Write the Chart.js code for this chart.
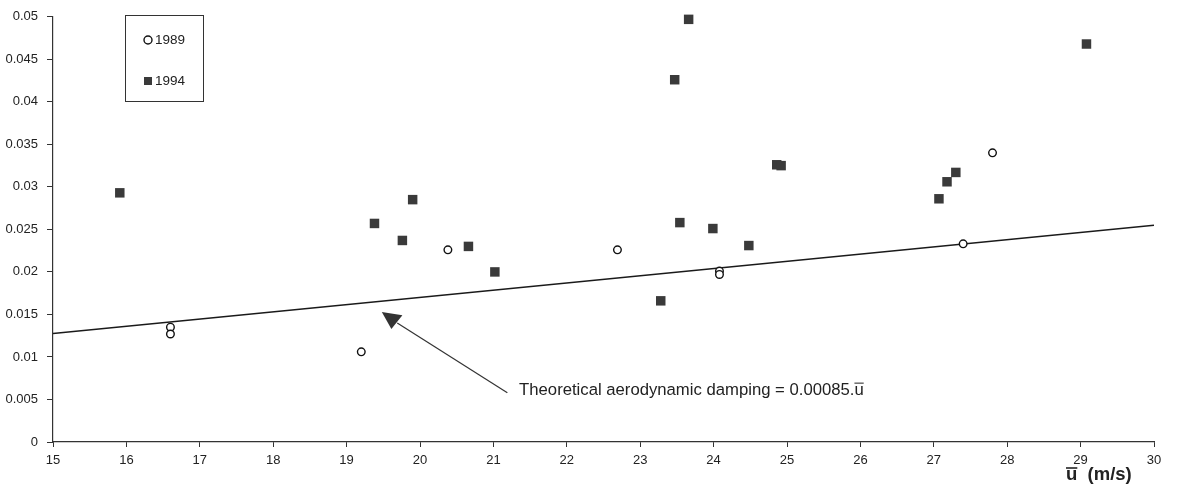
<!DOCTYPE html>
<html>
<head>
<meta charset="utf-8">
<script src="https://cdn.jsdelivr.net/npm/chart.js@4.4.1/dist/chart.umd.min.js"></script>
<style>
  html, body { margin: 0; padding: 0; background: #fff; }
  #wrap { width: 1177px; height: 492px; }
</style>
</head>
<body>
<div id="wrap"><canvas id="damping" width="1177" height="492"></canvas></div>
<script>
const u1989 = [16.60, 16.60, 19.20, 20.38, 22.69, 24.08, 24.08, 27.40, 27.80];
const d1989 = [0.0135, 0.0127, 0.0106, 0.0226, 0.0226, 0.0201, 0.0197, 0.0233, 0.0340];

const u1994 = [15.91, 19.38, 19.76, 19.90, 20.66, 21.02, 23.28, 23.47, 23.54, 23.66, 23.99, 24.48, 24.86, 24.92, 27.07, 27.18, 27.30, 29.08];
const d1994 = [0.0293, 0.0257, 0.0237, 0.0285, 0.0230, 0.0200, 0.0166, 0.0426, 0.0258, 0.0497, 0.0251, 0.0231, 0.0326, 0.0325, 0.0286, 0.0306, 0.0317, 0.0468];

// theoretical aerodynamic damping line end points
const uTheory = [15, 30];
const dTheory = [0.01275, 0.0255];

const xTicks = [15, 16, 17, 18, 19, 20, 21, 22, 23, 24, 25, 26, 27, 28, 29, 30];
const yTicks = [0, 0.005, 0.01, 0.015, 0.02, 0.025, 0.03, 0.035, 0.04, 0.045, 0.05];
const yTickLabels = ['0', '0.005', '0.01', '0.015', '0.02', '0.025', '0.03', '0.035', '0.04', '0.045', '0.05'];

const FONT = "'Liberation Sans', Arial, sans-serif";
const INK = '#222';

function pts(xs, ys) {
    return xs.map((x, i) => ({x: x, y: ys[i]}));
}

// legend box, arrow note and x axis title
const extras = {
    id: 'extras',
    afterDraw(chart) {
        const ctx = chart.ctx;
        const sx = chart.scales.x, sy = chart.scales.y;
        const px = (u) => sx.getPixelForValue(u);
        const py = (d) => sy.getPixelForValue(d);
        ctx.save();

        // legend
        ctx.strokeStyle = '#333';
        ctx.lineWidth = 1;
        ctx.strokeRect(125.5, 15.5, 78, 86);
        ctx.font = '13.5px ' + FONT;
        ctx.fillStyle = INK;
        ctx.textBaseline = 'middle';
        ctx.beginPath();
        ctx.arc(148, 40, 4, 0, Math.PI * 2);
        ctx.lineWidth = 1.4;
        ctx.strokeStyle = '#111';
        ctx.stroke();
        ctx.fillText(chart.data.datasets[0].label, 155, 40);
        ctx.fillStyle = '#3a3a3a';
        ctx.fillRect(144, 77, 8, 8);
        ctx.fillStyle = INK;
        ctx.fillText(chart.data.datasets[1].label, 155, 81);

        // arrow head
        ctx.fillStyle = '#333';
        ctx.beginPath();
        ctx.moveTo(px(19.48), py(0.0153));
        ctx.lineTo(px(19.76), py(0.0149));
        ctx.lineTo(px(19.61), py(0.0133));
        ctx.closePath();
        ctx.fill();
        ctx.strokeStyle = '#333';
        ctx.lineWidth = 1.2;
        ctx.beginPath();
        ctx.moveTo(px(19.69), py(0.0140));
        ctx.lineTo(px(21.19), py(0.0058));
        ctx.stroke();

        // note text with overlined u
        const note = 'Theoretical aerodynamic damping = 0.00085.';
        const tx = px(21.35), ty = py(0.0061);
        ctx.font = '16.7px ' + FONT;
        ctx.fillStyle = INK;
        ctx.textAlign = 'left';
        ctx.fillText(note + 'u', tx, ty);
        const w0 = ctx.measureText(note).width;
        const wu = ctx.measureText('u').width;
        ctx.lineWidth = 1;
        ctx.strokeStyle = INK;
        ctx.beginPath();
        ctx.moveTo(tx + w0, ty - 7);
        ctx.lineTo(tx + w0 + wu, ty - 7);
        ctx.stroke();

        // x axis title
        const ax = chart.chartArea.right - 88, ay = chart.chartArea.bottom + 33;
        ctx.font = 'bold 18.5px ' + FONT;
        ctx.fillText('u  (m/s)', ax, ay);
        const wb = ctx.measureText('u').width;
        ctx.lineWidth = 1.6;
        ctx.beginPath();
        ctx.moveTo(ax, ay - 7);
        ctx.lineTo(ax + wb, ay - 7);
        ctx.stroke();
        ctx.restore();
    }
};

document.addEventListener('DOMContentLoaded', function() {
    const ctx = document.getElementById('damping').getContext('2d');
    const data = {
        datasets: [
            {
                label: '1989',
                data: pts(u1989, d1989),
                pointStyle: 'circle',
                pointRadius: 3.8,
                pointBorderWidth: 1.4,
                pointBackgroundColor: '#fff',
                pointBorderColor: '#111',
                showLine: false,
                clip: false
            },
            {
                label: '1994',
                data: pts(u1994, d1994),
                pointStyle: 'rect',
                pointRadius: 6.7,
                pointBorderWidth: 0,
                pointBackgroundColor: '#3a3a3a',
                pointBorderColor: '#3a3a3a',
                showLine: false,
                clip: false
            },
            {
                label: 'Theoretical',
                type: 'line',
                data: pts(uTheory, dTheory),
                borderColor: '#1a1a1a',
                borderWidth: 1.5,
                pointRadius: 0,
                fill: false
            }
        ]
    };
    const config = {
        type: 'scatter',
        data: data,
        plugins: [extras],
        options: {
            responsive: false,
            animation: false,
            layout: {
                padding: {top: 16, right: 23, left: 0, bottom: 0}
            },
            plugins: {
                legend: {display: false},
                tooltip: {enabled: false}
            },
            scales: {
                x: {
                    type: 'linear',
                    min: 15,
                    max: 30,
                    afterBuildTicks: (s) => { s.ticks = xTicks.map(v => ({value: v})); },
                    afterFit: (s) => { s.height = 50; },
                    border: {display: true, color: '#333', width: 1.2},
                    grid: {display: true, drawOnChartArea: false, drawTicks: true, tickLength: 5, color: '#333'},
                    ticks: {
                        color: INK,
                        padding: 6,
                        maxRotation: 0,
                        font: {family: FONT, size: 13}
                    }
                },
                y: {
                    type: 'linear',
                    min: 0,
                    max: 0.05,
                    afterBuildTicks: (s) => { s.ticks = yTicks.map(v => ({value: v})); },
                    afterFit: (s) => { s.width = 53; },
                    border: {display: true, color: '#333', width: 1.2},
                    grid: {display: true, drawOnChartArea: false, drawTicks: true, tickLength: 6, color: '#333'},
                    ticks: {
                        color: INK,
                        padding: 9,
                        font: {family: FONT, size: 13},
                        callback: (v) => {
                            const i = yTicks.indexOf(v);
                            return i >= 0 ? yTickLabels[i] : '';
                        }
                    }
                }
            }
        }
    };
    new Chart(ctx, config);
});
</script>
</body>
</html>
